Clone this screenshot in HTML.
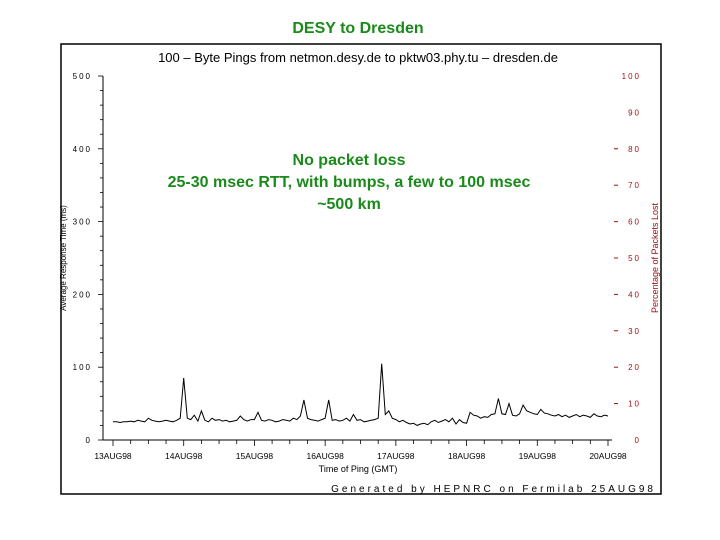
<!DOCTYPE html>
<html><head><meta charset="utf-8"><style>
body{margin:0;background:#fff;width:720px;height:540px;overflow:hidden}
svg{display:block;font-family:"Liberation Sans",sans-serif}
</style></head><body>
<svg width="720" height="540">
<text x="358" y="33" text-anchor="middle" font-size="16" font-weight="bold" fill="#1a8a1a">DESY to Dresden</text>
<rect x="61" y="44" width="600" height="450" fill="none" stroke="#000" stroke-width="1.5"/>
<text x="358" y="62" text-anchor="middle" font-size="13">100 – Byte  Pings  from  netmon.desy.de  to  pktw03.phy.tu – dresden.de</text>
<g id="axes"></g>
<path id="series" fill="none" stroke="#000" stroke-width="1"/>
<text transform="translate(66,258) rotate(-90)" text-anchor="middle" font-size="8">Average Response Time (ms)</text>
<text transform="translate(658,258) rotate(-90)" text-anchor="middle" font-size="9" fill="#a01010">Percentage of Packets Lost</text>
<text x="358" y="472" text-anchor="middle" font-size="9">Time of Ping (GMT)</text>
<text x="656" y="492" text-anchor="end" font-size="10" letter-spacing="3">Generated by HEPNRC on Fermilab 25AUG98</text>
<g font-size="16" font-weight="bold" fill="#1a8a1a" text-anchor="middle">
<text x="349" y="165">No packet loss</text>
<text x="349" y="187">25-30 msec RTT, with bumps, a few to 100 msec</text>
<text x="349" y="209">~500 km</text>
</g>
</svg>
<script>
const rtt=[25,25,24,25,25,26,25,27,26,25,30,27,26,25,26,27,26,25,27,30,85,30,28,34,26,40,27,25,30,27,28,26,27,25,26,27,33,28,26,28,28,38,27,26,28,27,25,26,28,27,26,30,28,33,55,30,28,27,26,28,30,55,27,28,26,27,30,26,35,27,28,25,26,27,28,30,105,35,40,30,28,25,27,24,22,23,20,22,23,21,25,27,24,26,28,25,30,22,28,24,23,38,34,33,30,32,31,35,36,57,36,35,50,34,33,36,48,40,38,36,35,42,37,36,34,33,35,32,34,31,33,35,32,34,33,31,36,33,32,34,33];
const leftTicks=[0,100,200,300,400,500];
const rightTicks=[0,10,20,30,40,50,60,70,80,90,100];
const dateLabels=["13AUG98","14AUG98","15AUG98","16AUG98","17AUG98","18AUG98","19AUG98","20AUG98"];
const days=7;
const X0=113,X1=608,Y0=440,Y1=76;
const xs=d=>X0+(X1-X0)*d/days;
const yl=v=>Y0-(Y0-Y1)*v/500;
const yr=v=>Y0-(Y0-Y1)*v/100;
const NS="http://www.w3.org/2000/svg";
const g=document.getElementById('axes');
function mk(t,a,txt){const e=document.createElementNS(NS,t);for(const k in a)e.setAttribute(k,a[k]);if(txt!==undefined)e.textContent=txt;g.appendChild(e);return e;}
let e=mk('line',{x1:103,y1:Y1,x2:103,y2:Y0,stroke:'#000'});


e=mk('line',{x1:103,y1:Y0,x2:612,y2:Y0,stroke:'#000'});


for(let v=0;v<=500;v+=20){mk('line',{x1:v%100?100:98,y1:yl(v),x2:103,y2:yl(v),stroke:'#000','stroke-width':0.8});}
leftTicks.forEach(v=>{const t=mk('text',{x:92,y:yl(v)+3,'text-anchor':'end','font-size':8,'letter-spacing':2},String(v));

});
rightTicks.forEach(v=>{if(v<=80&&v>0)mk('line',{x1:614,y1:yr(v),x2:618,y2:yr(v),stroke:'#a01010'});
const t=mk('text',{x:641,y:yr(v)+3,'text-anchor':'end','font-size':8,fill:'#a01010','letter-spacing':2},String(v));

});
for(let i=0;i<=days*4;i++){const x=xs(i/4);mk('line',{x1:x,y1:Y0,x2:x,y2:Y0+(i%4?4:6),stroke:'#000','stroke-width':0.8});}
dateLabels.forEach((s,i)=>{const t=mk('text',{x:xs(i),y:Y0+19,'text-anchor':'middle','font-size':8.5},s);

});
const step=days/(rtt.length-1);
document.getElementById('series').setAttribute('d',rtt.map((v,i)=>(i?'L':'M')+xs(i*step).toFixed(1)+','+yl(v).toFixed(1)).join(''));
</script>
</body></html>
